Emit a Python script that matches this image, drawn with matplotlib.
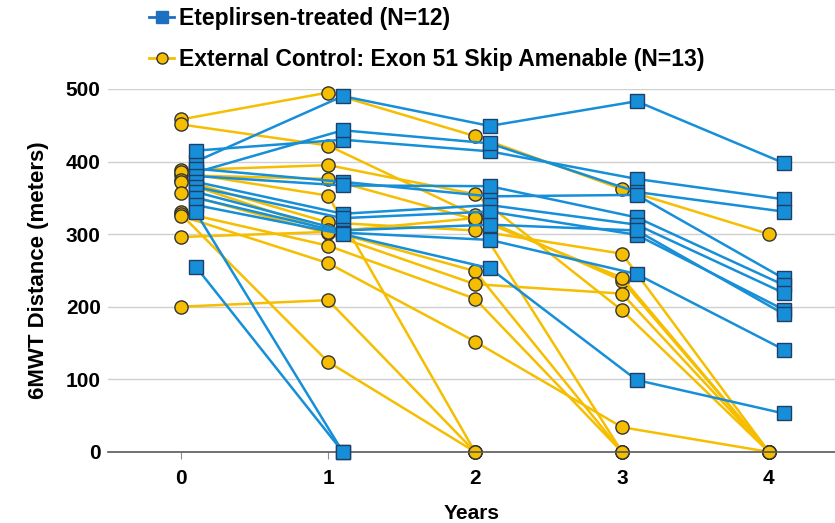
import matplotlib.pyplot as plt
from matplotlib.lines import Line2D
import numpy as np

plt.rcParams['font.family'] = ['Liberation Sans', 'DejaVu Sans']

years = [0, 1, 2, 3, 4]
nan = np.nan

# Eteplirsen-treated (N=12), 6MWT distance in meters by year
etep = [
    [400, 490, 449, 483, 398],
    [415, 430, 414, 376, 348],
    [385, 443, 425, 358, 331],
    [390, 372, 352, 354, 239],
    [380, 367, 366, 323, 230],
    [372, 328, 340, 313, 219],
    [365, 322, 331, 299, 196],
    [358, 305, 313, 305, 190],
    [350, 302, 292, 245, 141],
    [340, 300, 253, 99, 53],
    [330, 0, nan, nan, nan],
    [255, 0, nan, nan, nan],
]

# External control: exon 51 skip amenable (N=13)
ctrl = [
    [458, 495, 435, 362, 300],
    [451, 422, 326, 236, 0],
    [388, 395, 355, 195, 0],
    [381, 376, 320, 0, nan],
    [385, 353, 0, nan, nan],
    [375, 316, 305, 273, 0],
    [372, 305, 249, 0, nan],
    [356, 301, 231, 218, 0],
    [330, 284, 211, 0, nan],
    [327, 124, 0, nan, nan],
    [325, 260, 152, 34, 0],
    [296, 303, 322, 240, 0],
    [200, 209, 0, nan, nan],
]

blue = '#168fd8'
yellow = '#f5be00'

fig = plt.figure(figsize=(8.35, 5.23), dpi=100)
ax = fig.add_axes([0.129, 0.136, 0.871, 0.694])

x_ctrl = np.array(years, dtype=float)
x_etep = np.array(years, dtype=float) + 0.1

for row in ctrl:
    ax.plot(x_ctrl, row, color=yellow, lw=1.8, marker='o', ms=9.5,
            mfc=yellow, mec='#333333', mew=1.0, clip_on=False, zorder=2)
for row in etep:
    ax.plot(x_etep, row, color=blue, lw=1.8, marker='s', ms=9.5,
            mfc=blue, mec='#1f3f66', mew=1.0, clip_on=False, zorder=3)

ax.set_xlim(-0.5, 4.45)
ax.set_ylim(0, 500)
ax.set_yticks([0, 100, 200, 300, 400, 500])
ax.set_xticks(years)
ax.grid(axis='y', color='#d0d0d0', lw=1.0)
ax.set_axisbelow(True)
for s in ['top', 'right', 'left']:
    ax.spines[s].set_visible(False)
ax.spines['bottom'].set_color('#595959')
ax.spines['bottom'].set_linewidth(1.2)
ax.tick_params(axis='y', length=0, pad=5, labelsize=15)
ax.tick_params(axis='x', length=5, color='#8c8c8c', pad=7, labelsize=15)
for lab in ax.get_xticklabels() + ax.get_yticklabels():
    lab.set_fontweight('bold')

ax.set_xlabel('Years', fontsize=15, fontweight='bold', labelpad=12)
ax.set_ylabel('6MWT Distance (meters)', fontsize=16, fontweight='bold', labelpad=12)

handles = [
    Line2D([], [], color='#1f6fc0', lw=2, marker='s', ms=8, mfc='#1f6fc0', mec='#1f6fc0'),
    Line2D([], [], color=yellow, lw=2, marker='o', ms=8, mfc=yellow, mec='#333333'),
]
labels = ['Eteplirsen-treated (N=12)', 'External Control: Exon 51 Skip Amenable (N=13)']
fig.legend(handles, labels, loc='upper left', bbox_to_anchor=(0.173, 0.996),
           frameon=False, prop={'weight': 'bold', 'size': 16.5},
           handlelength=1.1, handletextpad=0.22, labelspacing=0.8,
           borderaxespad=0, borderpad=0.2)

fig.savefig('out.png', dpi=100)
